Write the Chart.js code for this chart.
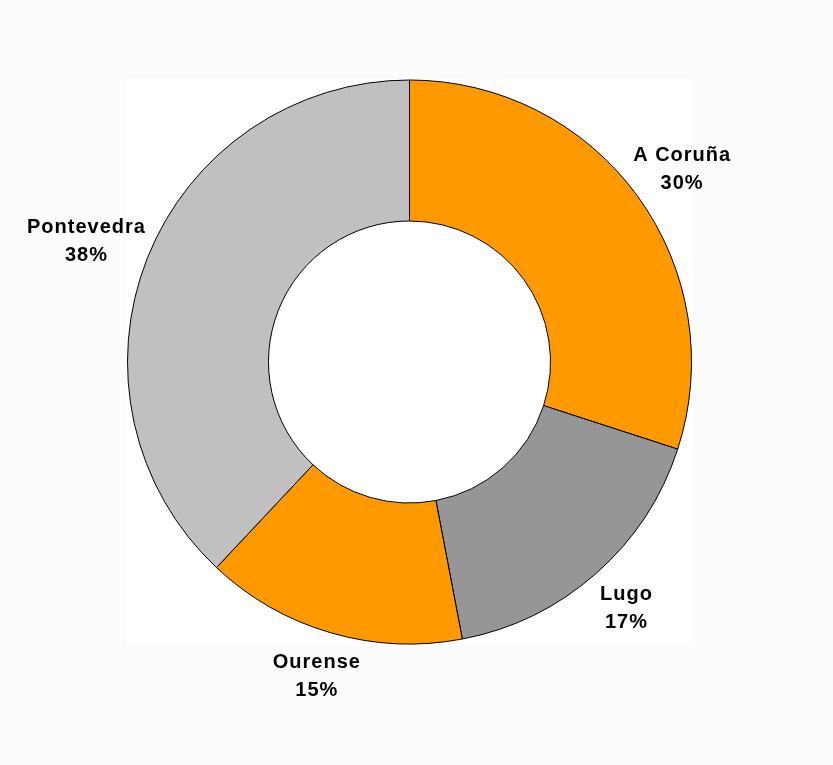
<!DOCTYPE html>
<html>
<head>
<meta charset="utf-8">
<script src="https://cdn.jsdelivr.net/npm/chart.js@4.4.1/dist/chart.umd.min.js"></script>
<style>
  html, body { margin: 0; padding: 0; background: #fcfcfc; }
  #wrap { width: 833px; height: 765px; position: relative; }
</style>
</head>
<body>
<div id="wrap"><canvas id="mychart"></canvas></div>
<script>
// provincias de Galicia
const provincias = ["A Coruña", "Lugo", "Ourense", "Pontevedra"];
const porcentajes = [30, 17, 15, 38];
const colores = ["#FF9900", "#969696", "#FF9900", "#C0C0C0"];

// white plot area behind the doughnut (square round the pie)
const plotArea = {
  id: "plotArea",
  beforeDatasetsDraw(chart) {
    const arc = chart.getDatasetMeta(0).data[0];
    if (!arc) return;
    const ctx = chart.ctx;
    const r = arc.outerRadius + 1;
    ctx.save();
    ctx.fillStyle = "#ffffff";
    ctx.fillRect(arc.x - r, arc.y - r, r * 2, r * 2);
    ctx.restore();
  }
};

// labels outside the ring, name + percent
const etiquetas = {
  id: "etiquetas",
  afterDraw(chart) {
    const ctx = chart.ctx;
    const meta = chart.getDatasetMeta(0);
    const total = porcentajes.reduce((a, b) => a + b, 0);
    ctx.save();
    ctx.font = "bold 20px 'Liberation Sans', Arial, sans-serif";
    ctx.letterSpacing = "1px";
    ctx.fillStyle = "#000000";
    ctx.textAlign = "center";
    ctx.textBaseline = "middle";
    meta.data.forEach((arc, i) => {
      const mid = (arc.startAngle + arc.endAngle) / 2;
      const txt1 = provincias[i];
      const txt2 = Math.round(porcentajes[i] / total * 100) + "%";
      const hw = Math.max(ctx.measureText(txt1).width, ctx.measureText(txt2).width) / 2;
      const R = arc.outerRadius + 46;
      const x = arc.x + Math.cos(mid) * (R + Math.max(0, hw - 40));
      const y = arc.y + Math.sin(mid) * R;
      ctx.fillText(txt1, x, y - 14);
      ctx.fillText(txt2, x, y + 14);
    });
    ctx.restore();
  }
};

const data = {
  labels: provincias,
  datasets: [
    {
      data: porcentajes,
      backgroundColor: colores,
      borderColor: "#000000",
      borderWidth: 1,
    },
  ],
};

const config = {
  type: "doughnut",
  data: data,
  options: {
    responsive: true,
    maintainAspectRatio: false,
    animation: false,
    cutout: "50%",
    layout: {
      padding: { left: 127, right: 141, top: 79, bottom: 120 },
    },
    plugins: {
      legend: { display: false },
      tooltip: { enabled: false },
    },
  },
  plugins: [plotArea, etiquetas],
};

const mychart = new Chart(document.getElementById("mychart"), config);
</script>
</body>
</html>
